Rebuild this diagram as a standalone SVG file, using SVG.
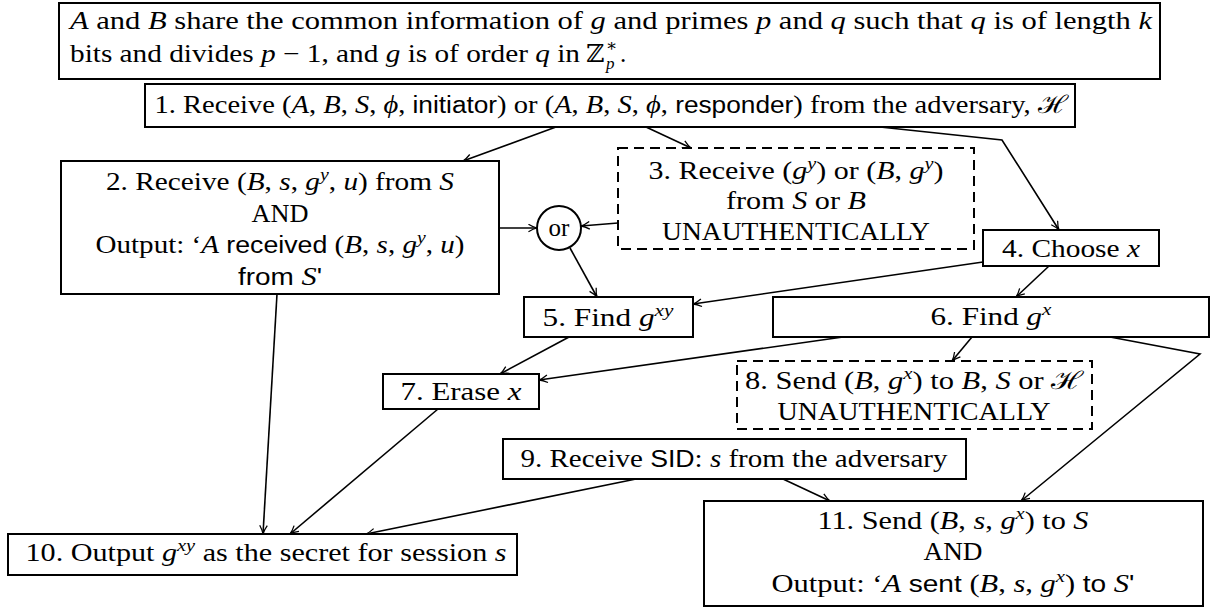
<svg xmlns="http://www.w3.org/2000/svg" width="1211" height="608" viewBox="0 0 1211 608">
<style>
  text { font-family: "Liberation Serif", "DejaVu Serif", serif; font-size: 25px; fill: #000; }
  .i { font-style: italic; }
  .sf { font-family: "Liberation Sans", "DejaVu Sans", sans-serif; font-size: 23px; font-style: normal; }
  .sup { font-size: 17px; font-style: italic; }
  .box { fill: #fff; stroke: #000; stroke-width: 2; }
  .dash { fill: #fff; stroke: #000; stroke-width: 2; stroke-dasharray: 10 6; }
  .edge { fill: none; stroke: #000; stroke-width: 1.6; marker-end: url(#arr); }
</style>
<defs>
  <marker id="arr" viewBox="0 0 10 10" refX="10" refY="5" markerWidth="10" markerHeight="9" markerUnits="userSpaceOnUse" orient="auto">
    <path d="M0.5,0.8 Q6,4.2 10,5 Q6,5.8 0.5,9.2" fill="none" stroke="#000" stroke-width="1.4"/>
  </marker>
</defs>
<rect width="1211" height="608" fill="#fff"/>

<g id="connectors">
  <path class="edge" d="M556,127 L463,161"/>
  <path class="edge" d="M646,127 L691,148"/>
  <path class="edge" d="M880,127 L1002,140 L1059,230"/>
  <path class="edge" d="M499,228 L537,228"/>
  <path class="edge" d="M618,223 L581,226"/>
  <path class="edge" d="M570,248 L597,297"/>
  <path class="edge" d="M983,262 L693,304"/>
  <path class="edge" d="M1049,266 L1016,297"/>
  <path class="edge" d="M569,337 L500,374"/>
  <path class="edge" d="M843,337 L539,380"/>
  <path class="edge" d="M972,337 L952,361"/>
  <path class="edge" d="M1110,337 L1200,354 L1021,501"/>
  <path class="edge" d="M438,409 L290,534"/>
  <path class="edge" d="M277,294 L263,534"/>
  <path class="edge" d="M636,479 L366,534"/>
  <path class="edge" d="M783,479 L830,501"/>
</g>

<g id="info">
  <rect class="box" x="59" y="3" width="1101" height="76"/>
  <text x="70" y="29" textLength="1082" lengthAdjust="spacingAndGlyphs"><tspan class="i">A</tspan> and <tspan class="i">B</tspan> share the common information of <tspan class="i">g</tspan> and primes <tspan class="i">p</tspan> and <tspan class="i">q</tspan> such that <tspan class="i">q</tspan> is of length <tspan class="i">k</tspan></text>
  <text x="70" y="62" textLength="510" lengthAdjust="spacingAndGlyphs">bits and divides <tspan class="i">p</tspan> − 1, and <tspan class="i">g</tspan> is of order <tspan class="i">q</tspan> in</text>
  <text x="586" y="62">ℤ</text>
  <text x="606" y="51" style="font-size:17px">∗</text>
  <text x="606" y="69" class="i" style="font-size:17px">p</text>
  <text x="620" y="62">.</text>
</g>

<g id="n1">
  <rect class="box" x="145" y="84" width="930" height="43"/>
  <text x="611" y="113" text-anchor="middle" textLength="913" lengthAdjust="spacingAndGlyphs">1. Receive (<tspan class="i">A</tspan>, <tspan class="i">B</tspan>, <tspan class="i">S</tspan>, <tspan class="i">ϕ</tspan>, <tspan class="sf">initiator</tspan>) or (<tspan class="i">A</tspan>, <tspan class="i">B</tspan>, <tspan class="i">S</tspan>, <tspan class="i">ϕ</tspan>, <tspan class="sf">responder</tspan>) from the adversary, ℋ</text>
</g>

<g id="n2">
  <rect class="box" x="61" y="161" width="438" height="133"/>
  <text x="280" y="190" text-anchor="middle" textLength="348" lengthAdjust="spacingAndGlyphs">2. Receive (<tspan class="i">B</tspan>, <tspan class="i">s</tspan>, <tspan class="i">g</tspan><tspan class="sup" dy="-10">y</tspan><tspan dy="10">, </tspan><tspan class="i">u</tspan>) from <tspan class="i">S</tspan></text>
  <text x="280" y="222" text-anchor="middle" textLength="57" lengthAdjust="spacingAndGlyphs">AND</text>
  <text x="280" y="253" text-anchor="middle" textLength="369" lengthAdjust="spacingAndGlyphs">Output: ‘<tspan class="i">A</tspan> <tspan class="sf">received</tspan> (<tspan class="i">B</tspan>, <tspan class="i">s</tspan>, <tspan class="i">g</tspan><tspan class="sup" dy="-10">y</tspan><tspan dy="10">, </tspan><tspan class="i">u</tspan>)</text>
  <text x="280" y="285" text-anchor="middle" textLength="84" lengthAdjust="spacingAndGlyphs"><tspan class="sf">from</tspan> <tspan class="i">S</tspan><tspan class="sf">'</tspan></text>
</g>

<g id="n3">
  <rect class="dash" x="618" y="148" width="356" height="101"/>
  <text x="796" y="179" text-anchor="middle" textLength="295" lengthAdjust="spacingAndGlyphs">3. Receive (<tspan class="i">g</tspan><tspan class="sup" dy="-10">y</tspan><tspan dy="10">) or (</tspan><tspan class="i">B</tspan>, <tspan class="i">g</tspan><tspan class="sup" dy="-10">y</tspan><tspan dy="10">)</tspan></text>
  <text x="796" y="209" text-anchor="middle" textLength="140" lengthAdjust="spacingAndGlyphs">from <tspan class="i">S</tspan> or <tspan class="i">B</tspan></text>
  <text x="796" y="240" text-anchor="middle" textLength="268" lengthAdjust="spacingAndGlyphs">UNAUTHENTICALLY</text>
</g>

<g id="or">
  <circle cx="559" cy="228" r="22" fill="#fff" stroke="#000" stroke-width="2"/>
  <text x="559" y="236" text-anchor="middle">or</text>
</g>

<g id="n4">
  <rect class="box" x="983" y="230" width="176" height="36"/>
  <text x="1071" y="257" text-anchor="middle" textLength="138" lengthAdjust="spacingAndGlyphs">4. Choose <tspan class="i">x</tspan></text>
</g>

<g id="n5">
  <rect class="box" x="524" y="297" width="169" height="40"/>
  <text x="608" y="326" text-anchor="middle" textLength="131" lengthAdjust="spacingAndGlyphs">5. Find <tspan class="i">g</tspan><tspan class="sup" dy="-10">xy</tspan></text>
</g>

<g id="n6">
  <rect class="box" x="773" y="297" width="436" height="40"/>
  <text x="991" y="325" text-anchor="middle" textLength="121" lengthAdjust="spacingAndGlyphs">6. Find <tspan class="i">g</tspan><tspan class="sup" dy="-10">x</tspan></text>
</g>

<g id="n7">
  <rect class="box" x="383" y="374" width="156" height="35"/>
  <text x="461" y="400" text-anchor="middle" textLength="121" lengthAdjust="spacingAndGlyphs">7. Erase <tspan class="i">x</tspan></text>
</g>

<g id="n8">
  <rect class="dash" x="737" y="361" width="355" height="68"/>
  <text x="914" y="389" text-anchor="middle" textLength="338" lengthAdjust="spacingAndGlyphs">8. Send (<tspan class="i">B</tspan>, <tspan class="i">g</tspan><tspan class="sup" dy="-10">x</tspan><tspan dy="10">) to </tspan><tspan class="i">B</tspan>, <tspan class="i">S</tspan> or ℋ</text>
  <text x="914" y="420" text-anchor="middle" textLength="273" lengthAdjust="spacingAndGlyphs">UNAUTHENTICALLY</text>
</g>

<g id="n9">
  <rect class="box" x="503" y="439" width="463" height="40"/>
  <text x="734" y="467" text-anchor="middle" textLength="427" lengthAdjust="spacingAndGlyphs">9. Receive <tspan class="sf">SID</tspan>: <tspan class="i">s</tspan> from the adversary</text>
</g>

<g id="n10">
  <rect class="box" x="8" y="534" width="509" height="41"/>
  <text x="266" y="561" text-anchor="middle" textLength="481" lengthAdjust="spacingAndGlyphs">10. Output <tspan class="i">g</tspan><tspan class="sup" dy="-10">xy</tspan><tspan dy="10"> as the secret for session </tspan><tspan class="i">s</tspan></text>
</g>

<g id="n11">
  <rect class="box" x="704" y="501" width="499" height="105"/>
  <text x="953" y="529" text-anchor="middle" textLength="271" lengthAdjust="spacingAndGlyphs">11. Send (<tspan class="i">B</tspan>, <tspan class="i">s</tspan>, <tspan class="i">g</tspan><tspan class="sup" dy="-10">x</tspan><tspan dy="10">) to </tspan><tspan class="i">S</tspan></text>
  <text x="953" y="560" text-anchor="middle" textLength="59" lengthAdjust="spacingAndGlyphs">AND</text>
  <text x="953" y="592" text-anchor="middle" textLength="363" lengthAdjust="spacingAndGlyphs">Output: ‘<tspan class="i">A</tspan> <tspan class="sf">sent</tspan> (<tspan class="i">B</tspan>, <tspan class="i">s</tspan>, <tspan class="i">g</tspan><tspan class="sup" dy="-10">x</tspan><tspan dy="10">) </tspan><tspan class="sf">to</tspan> <tspan class="i">S</tspan><tspan class="sf">'</tspan></text>
</g>
</svg>
